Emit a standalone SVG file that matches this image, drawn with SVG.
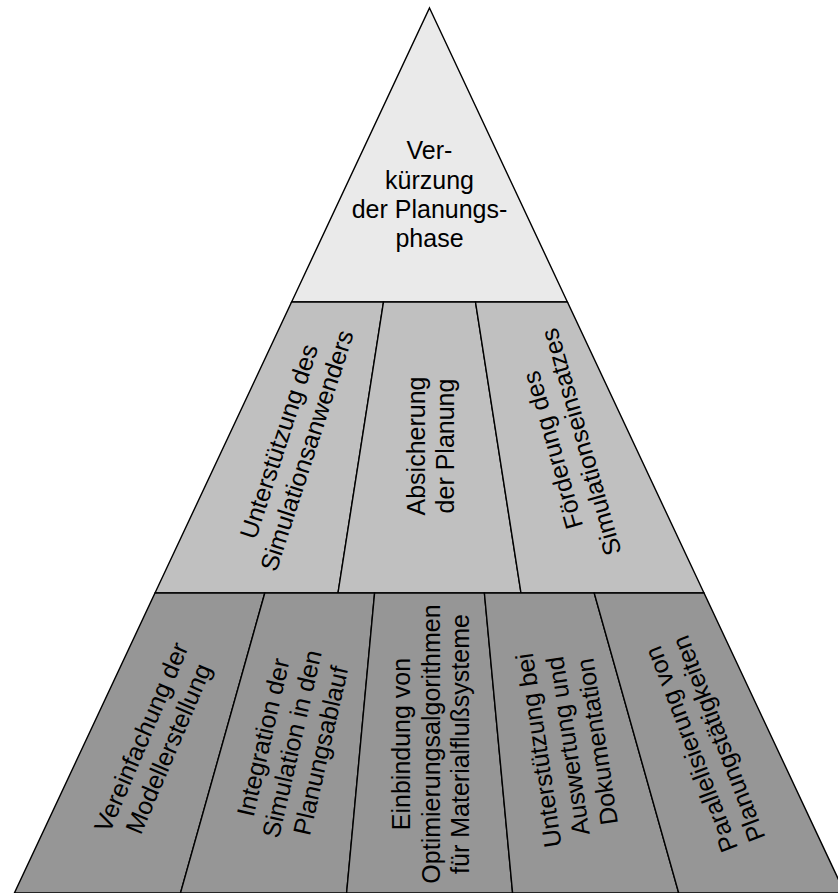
<svg xmlns="http://www.w3.org/2000/svg" width="838" height="893" viewBox="0 0 838 893">
  <style>
    .seg { stroke: #000; stroke-width: 1.4; stroke-linejoin: miter; }
    .t1 { fill: #eaeaea; }
    .t2 { fill: #c0c0c0; }
    .t3 { fill: #969696; }
    text { font-family: "Liberation Sans", Arial, sans-serif; font-size: 25px; fill: #000; text-anchor: middle; }
  </style>
  <rect width="838" height="893" fill="#fff"/>

  <!-- Top tier -->
  <g id="goal">
    <polygon class="seg t1" points="429.5,8 567.4,302 291.6,302"/>
    <text x="429.5" y="159.3">Ver-</text>
    <text x="429.5" y="188.6">kürzung</text>
    <text x="429.5" y="218">der Planungs-</text>
    <text x="429.5" y="247.3">phase</text>
  </g>

  <!-- Middle tier -->
  <g id="mid-1">
    <polygon class="seg t2" points="291.6,302 383.5,302 338,593 155,593"/>
    <g transform="translate(293,446) rotate(-72)">
      <text y="-6.3">Unterstützung des</text>
      <text y="23.2">Simulationsanwenders</text>
    </g>
  </g>
  <g id="mid-2">
    <polygon class="seg t2" points="383.5,302 475.5,302 521,593 338,593"/>
    <g transform="translate(431,446) rotate(-90)">
      <text y="-6.3">Absicherung</text>
      <text y="23.2">der Planung</text>
    </g>
  </g>
  <g id="mid-3">
    <polygon class="seg t2" points="475.5,302 567.4,302 704,593 521,593"/>
    <g transform="translate(567,446) rotate(-106)">
      <text y="-6.3">Förderung des</text>
      <text y="23.2">Simulationseinsatzes</text>
    </g>
  </g>

  <!-- Bottom tier -->
  <g id="base-1">
    <polygon class="seg t3" points="155,593 264.8,593 180.5,893 14.4,893"/>
    <g transform="translate(155,743) rotate(-67)">
      <text y="-6.3">Vereinfachung der</text>
      <text y="23.2">Modellerstellung</text>
    </g>
  </g>
  <g id="base-2">
    <polygon class="seg t3" points="264.8,593 374.6,593 346.6,893 180.5,893"/>
    <g transform="translate(292,744) rotate(-77)">
      <text y="-21">Integration der</text>
      <text y="8.5">Simulation in den</text>
      <text y="38">Planungsablauf</text>
    </g>
  </g>
  <g id="base-3">
    <polygon class="seg t3" points="374.6,593 484.4,593 512.6,893 346.6,893"/>
    <g transform="translate(431,744) rotate(-90)">
      <text y="-21">Einbindung von</text>
      <text y="8.5">Optimierungsalgorithmen</text>
      <text y="38">für Materialflußsysteme</text>
    </g>
  </g>
  <g id="base-4">
    <polygon class="seg t3" points="484.4,593 594.2,593 678.7,893 512.6,893"/>
    <g transform="translate(568,746) rotate(-98.5)">
      <text y="-21">Unterstützung bei</text>
      <text y="8.5">Auswertung und</text>
      <text y="38">Dokumentation</text>
    </g>
  </g>
  <g id="base-5">
    <polygon class="seg t3" points="594.2,593 704,593 844.8,893 678.7,893"/>
    <g transform="translate(705,744) rotate(-111)">
      <text y="-6.3">Parallelisierung von</text>
      <text y="23.2">Planungstätigkeiten</text>
    </g>
  </g>
</svg>
